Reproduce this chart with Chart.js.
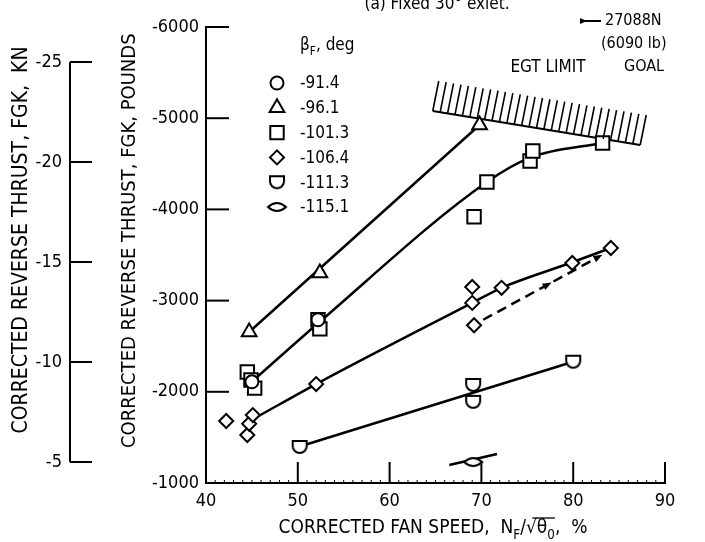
<!doctype html>
<html lang="en">
<head>
<meta charset="utf-8">
<title>Corrected reverse thrust vs corrected fan speed</title>
<script src="https://cdn.jsdelivr.net/npm/chart.js"></script>
<style>
    html, body { margin: 0; padding: 0; background: #fff; }
    #wrap { width: 705px; height: 542px; }
</style>
</head>
<body>
<div id="wrap"><canvas id="thrustChart" width="705" height="542"></canvas></div>
<script>
    // values: x = corrected fan speed (%), y = corrected reverse thrust (lb)
    const legendLabels = ['-91.4', '-96.1', '-101.3', '-106.4', '-111.3', '-115.1'];

    const circleX = [45.0, 52.2];
    const circleY = [-2110, -2790];
    const triangleX = [44.7, 52.4, 69.8];
    const triangleY = [-2656, -3303, -4925];
    const squareX = [44.5, 44.9, 45.3, 52.2, 52.4, 69.2, 70.6, 75.3, 75.6, 83.2];
    const squareY = [-2217, -2130, -2040, -2790, -2690, -3920, -4300, -4530, -4640, -4728];
    const diamondX = [42.2, 44.5, 44.7, 45.1, 52.0, 69.0, 69.0, 69.2, 72.2, 79.9, 84.1];
    const diamondY = [-1680, -1526, -1650, -1745, -2085, -3150, -2975, -2730, -3140, -3412, -3577];
    const shieldX = [50.2, 69.1, 69.1, 80.0];
    const shieldY = [-1395, -2075, -1890, -2330];
    const lensX = [69.1];
    const lensY = [-1230];

    // faired curves
    const triFitX = [44.7, 69.8];
    const triFitY = [-2656, -4925];
    const sqFitX = [45.1, 52.3, 70.6, 75.4, 83.2];
    const sqFitY = [-2120, -2760, -4300, -4570, -4728];
    const diaFitX = [45.3, 52.0, 69.0, 72.2, 79.9, 84.1];
    const diaFitY = [-1710, -2085, -2975, -3140, -3420, -3577];
    const shieldFitX = [50.2, 80.0];
    const shieldFitY = [-1400, -2330];
    const lensFitX = [66.5, 71.7];
    const lensFitY = [-1197, -1318];
    const dashX = [70.2, 82.6];
    const dashY = [-2790, -3470];
    const egtX = [64.7, 87.3];
    const egtY = [-5079, -4706];

    // tick settings
    const fanTickStep = 10;
    const lbTickStep = 1000;
    const knTickStep = 5;

    const FONT = '"DejaVu Sans Condensed", "Liberation Sans Narrow", sans-serif';

    function pts(xs, ys) {
        return xs.map((x, i) => ({ x: x, y: ys[i] }));
    }

    // custom marker shapes
    function shieldMark() {
        const c = document.createElement('canvas');
        c.width = 18; c.height = 18;
        const g = c.getContext('2d');
        g.lineWidth = 2; g.strokeStyle = '#000'; g.fillStyle = '#fff';
        g.beginPath();
        g.moveTo(2, 3); g.lineTo(16, 3); g.lineTo(16, 8);
        g.arc(9, 8, 7, 0, Math.PI);
        g.closePath(); g.fill(); g.stroke();
        return c;
    }
    function lensMark() {
        const c = document.createElement('canvas');
        c.width = 22; c.height = 14;
        const g = c.getContext('2d');
        g.lineWidth = 2; g.strokeStyle = '#000'; g.fillStyle = '#fff';
        g.beginPath();
        g.moveTo(2, 7);
        g.quadraticCurveTo(11, -1, 20, 7);
        g.quadraticCurveTo(11, 15, 2, 7);
        g.closePath(); g.fill(); g.stroke();
        return c;
    }

    function markSet(label, xs, ys, style, r) {
        return {
            label: label, data: pts(xs, ys), showLine: false,
            pointStyle: style, pointRadius: r, pointHoverRadius: r,
            pointBorderColor: '#000', pointBackgroundColor: '#fff', pointBorderWidth: 2
        };
    }
    function fitSet(xs, ys, extra) {
        return Object.assign({
            label: '', data: pts(xs, ys), showLine: true, pointRadius: 0,
            borderColor: '#000', borderWidth: 2.5, fill: false
        }, extra || {});
    }

    const markStyles = ['circle', 'triangle', 'rect', 'rectRot', shieldMark(), lensMark()];
    const markSizes = [6.5, 8.5, 9.5, 7, 8, 8];

    const datasets = [
        markSet(legendLabels[0], circleX, circleY, markStyles[0], markSizes[0]),
        markSet(legendLabels[1], triangleX, triangleY, markStyles[1], markSizes[1]),
        markSet(legendLabels[2], squareX, squareY, markStyles[2], markSizes[2]),
        markSet(legendLabels[3], diamondX, diamondY, markStyles[3], markSizes[3]),
        markSet(legendLabels[4], shieldX, shieldY, markStyles[4], markSizes[4]),
        markSet(legendLabels[5], lensX, lensY, markStyles[5], markSizes[5]),
        fitSet(triFitX, triFitY),
        fitSet(sqFitX, sqFitY, { cubicInterpolationMode: 'monotone' }),
        fitSet(diaFitX, diaFitY, { cubicInterpolationMode: 'monotone' }),
        fitSet(shieldFitX, shieldFitY),
        fitSet(lensFitX, lensFitY),
        fitSet(dashX, dashY, { borderDash: [10, 6] }),
        fitSet(egtX, egtY, { borderWidth: 2 })
    ];
    const DASH_INDEX = 11;
    const EGT_INDEX = 12;

    function line(ctx, x1, y1, x2, y2) {
        ctx.beginPath(); ctx.moveTo(x1, y1); ctx.lineTo(x2, y2); ctx.stroke();
    }
    function arrowHead(ctx, x, y, ang, len, w) {
        ctx.save();
        ctx.translate(x, y); ctx.rotate(ang);
        ctx.beginPath();
        ctx.moveTo(0, 0); ctx.lineTo(-len, -w); ctx.lineTo(-len, w);
        ctx.closePath(); ctx.fill();
        ctx.restore();
    }
    // draws text pieces with subscripts
    function richText(ctx, parts, x, y, size, align) {
        const widths = parts.map(p => {
            ctx.font = (p.sub ? size * 0.7 : size) + 'px ' + FONT;
            return ctx.measureText(p.t).width;
        });
        const total = widths.reduce((a, b) => a + b, 0);
        let cx = align === 'center' ? x - total / 2 : x;
        ctx.textAlign = 'left';
        ctx.textBaseline = 'alphabetic';
        const pos = [];
        parts.forEach((p, i) => {
            ctx.font = (p.sub ? size * 0.7 : size) + 'px ' + FONT;
            ctx.fillText(p.t, cx, p.sub ? y + size * 0.3 : y);
            pos.push(cx);
            cx += widths[i];
        });
        return { pos: pos, widths: widths };
    }

    const decor = {
        id: 'decor',
        afterDraw(chart) {
            const ctx = chart.ctx;
            const xs = chart.scales.x, ys = chart.scales.y, ks = chart.scales.yKN;
            ctx.save();
            ctx.strokeStyle = '#000';
            ctx.fillStyle = '#000';
            ctx.lineWidth = 2;

            // inward ticks on the fan speed axis, with small minor marks
            xs.ticks.forEach(t => {
                const px = xs.getPixelForValue(t.value);
                line(ctx, px, xs.top, px, xs.top - 21);
            });
            ctx.lineWidth = 1;
            for (let v = xs.min + 1; v < xs.max; v++) {
                const px = xs.getPixelForValue(v);
                line(ctx, px, xs.top, px, xs.top - 3);
            }
            ctx.lineWidth = 2;
            // inward ticks on the pound axis
            ys.ticks.forEach(t => {
                const py = ys.getPixelForValue(t.value);
                line(ctx, ys.right, py, ys.right + 23, py);
            });
            // kN axis line and ticks
            const kTop = ks.getPixelForValue(-25), kBot = ks.getPixelForValue(-5);
            line(ctx, ks.right, kTop, ks.right, kBot);
            ks.ticks.forEach(t => {
                const py = ks.getPixelForValue(t.value);
                line(ctx, ks.right, py, ks.right + 22, py);
            });

            // EGT limit hatching
            const em = chart.getDatasetMeta(EGT_INDEX).data;
            const n = 29;
            ctx.lineWidth = 1.6;
            for (let i = 0; i < n; i++) {
                const f = i / (n - 1);
                const bx = em[0].x + f * (em[1].x - em[0].x);
                const by = em[0].y + f * (em[1].y - em[0].y);
                line(ctx, bx, by, bx + 6, by - 30);
            }

            // arrows on the dashed path
            const dm = chart.getDatasetMeta(DASH_INDEX).data;
            const ang = Math.atan2(dm[1].y - dm[0].y, dm[1].x - dm[0].x);
            const mx = dm[0].x + 0.6 * (dm[1].x - dm[0].x), my = dm[0].y + 0.6 * (dm[1].y - dm[0].y);
            arrowHead(ctx, mx, my, ang, 9, 3.5);
            arrowHead(ctx, dm[1].x + 6 * Math.cos(ang), dm[1].y + 6 * Math.sin(ang), ang, 9, 3.5);

            // legend built from the marker datasets
            richText(ctx, [{ t: 'β' }, { t: 'F', sub: true }, { t: ', deg' }], 300, 50, 17, 'left');
            for (let i = 0; i < 6; i++) {
                const ds = chart.data.datasets[i];
                const y = 83 + i * 24.8;
                ctx.lineWidth = 2;
                ctx.strokeStyle = '#000';
                ctx.fillStyle = '#fff';
                Chart.helpers.drawPoint(ctx, {
                    pointStyle: ds.pointStyle, radius: ds.pointRadius, borderWidth: 2, rotation: 0
                }, 277, y);
                ctx.fillStyle = '#000';
                ctx.font = '17px ' + FONT;
                ctx.textAlign = 'left';
                ctx.textBaseline = 'middle';
                ctx.fillText(ds.label, 300, y + 1);
            }

            // annotations
            ctx.fillStyle = '#000';
            ctx.font = '17px ' + FONT;
            ctx.textAlign = 'center';
            ctx.textBaseline = 'alphabetic';
            ctx.fillText('(a) Fixed 30° exlet.', 437, 9);
            ctx.textBaseline = 'middle';
            ctx.fillText('EGT LIMIT', 548, 68);
            ctx.textAlign = 'left';
            ctx.font = '16px ' + FONT;
            ctx.fillText('27088N', 605, 21);
            ctx.fillText('(6090 lb)', 601, 44);
            ctx.fillText('GOAL', 624, 67);
            ctx.lineWidth = 2;
            line(ctx, 583, 21, 601, 21);
            arrowHead(ctx, 587, 21, Math.PI, -7, 3);

            // x axis title with subscripts
            const r = richText(ctx, [
                { t: 'CORRECTED FAN SPEED,  N' }, { t: 'F', sub: true }, { t: '/√θ' },
                { t: '0', sub: true }, { t: ',  %' }
            ], 433, 533, 19, 'center');
            ctx.lineWidth = 1.3;
            const sx = r.pos[2] + r.widths[2] * 0.45;
            line(ctx, sx, 518, r.pos[3] + r.widths[3], 518);
            ctx.restore();
        }
    };

    const tickFont = { family: FONT, size: 18 };
    const plain = v => String(v);

    new Chart(document.getElementById('thrustChart'), {
        type: 'scatter',
        data: { datasets: datasets },
        options: {
            responsive: false,
            animation: false,
            layout: { padding: { top: 27, right: 40, left: 0, bottom: 0 } },
            plugins: { legend: { display: false }, tooltip: { enabled: false } },
            scales: {
                x: {
                    type: 'linear', position: 'bottom', min: 40, max: 90,
                    ticks: { stepSize: fanTickStep, color: '#000', font: tickFont, padding: 8, includeBounds: false, callback: plain },
                    grid: { display: false, drawTicks: false },
                    border: { color: '#000', width: 2 },
                    afterFit(s) { s.height = 59; }
                },
                y: {
                    type: 'linear', position: 'left', min: -6000, max: -1000, reverse: true,
                    ticks: { stepSize: lbTickStep, color: '#000', font: tickFont, padding: 7, includeBounds: false, callback: plain },
                    grid: { display: false, drawTicks: false },
                    border: { color: '#000', width: 2 },
                    title: {
                        display: true, text: '     CORRECTED REVERSE THRUST, FGK, POUNDS', color: '#000',
                        font: { family: FONT, size: 20 }, padding: { top: 48, bottom: 0 }
                    },
                    afterFit(s) { s.width = 136; }
                },
                yKN: {
                    type: 'linear', position: 'left', weight: 1, min: -26.75, max: -3.95, reverse: true,
                    ticks: { stepSize: knTickStep, color: '#000', font: tickFont, padding: 8, includeBounds: false, callback: plain },
                    grid: { display: false, drawTicks: false },
                    border: { display: false },
                    title: {
                        display: true, text: '     CORRECTED REVERSE THRUST, FGK,  KN', color: '#000',
                        font: { family: FONT, size: 21 }, padding: { top: 9, bottom: 0 }
                    },
                    afterFit(s) { s.width = 70; }
                }
            }
        },
        plugins: [decor]
    });
</script>
</body>
</html>
